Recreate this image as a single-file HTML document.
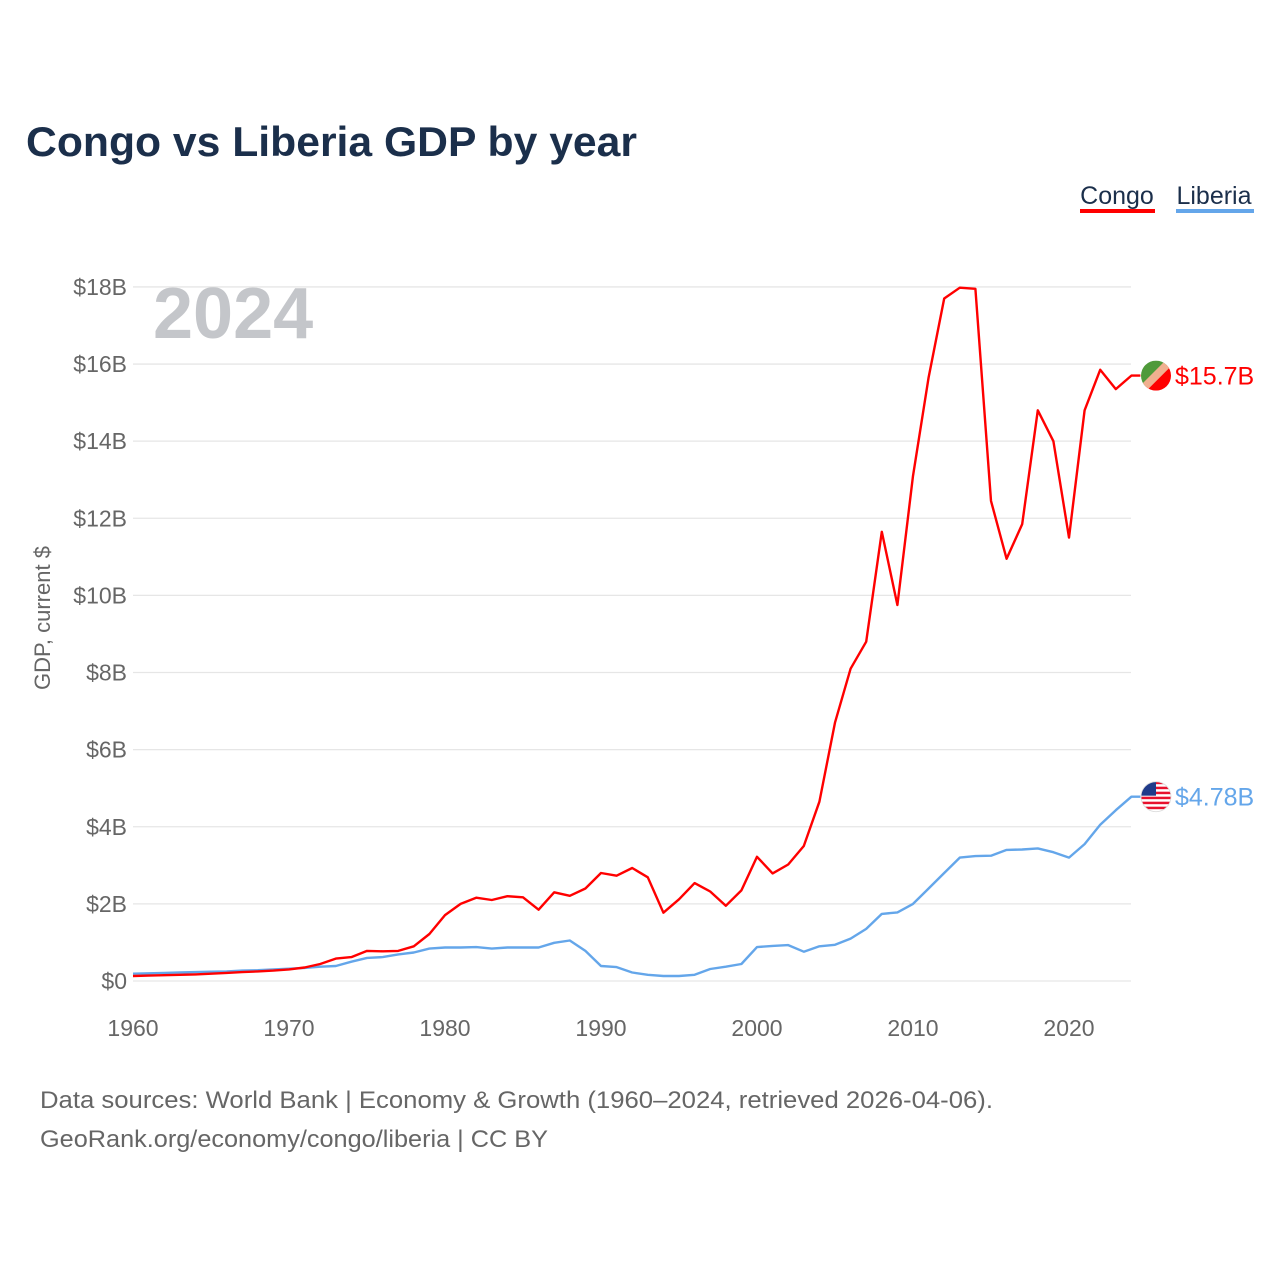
<!DOCTYPE html>
<html><head><meta charset="utf-8">
<style>
body{margin:0;background:#fff;font-family:"Liberation Sans",sans-serif;}
#wrap{position:relative;width:1280px;height:1280px;overflow:hidden;}
</style></head>
<body>
<div id="wrap">
<svg id="chart" width="1280" height="1280">
<text x="26" y="156" font-size="42" font-weight="bold" fill="#1b2f4b" textLength="611" lengthAdjust="spacingAndGlyphs">Congo vs Liberia GDP by year</text>
<g>
<g><text x="1117" y="204" font-size="25" fill="#1b2f4b" text-anchor="middle">Congo</text><rect x="1080" y="209" width="75" height="4" fill="#ff0000"/></g>
<g><text x="1214" y="204" font-size="25" fill="#1b2f4b" text-anchor="middle">Liberia</text><rect x="1176" y="209" width="78" height="4" fill="#64a6ea"/></g>
</g>
<g id="grid"></g>
<text x="153" y="338" font-size="72" font-weight="bold" fill="#c4c6ca">2024</text>
<text transform="translate(50,618) rotate(-90)" font-size="22" fill="#666" text-anchor="middle">GDP, current $</text>
<g id="series"></g>
<text x="40" y="1108" font-size="24" fill="#666" textLength="953" lengthAdjust="spacingAndGlyphs">Data sources: World Bank | Economy &amp; Growth (1960–2024, retrieved 2026-04-06).</text>
<text x="40" y="1147" font-size="24" fill="#666" textLength="508" lengthAdjust="spacingAndGlyphs">GeoRank.org/economy/congo/liberia | CC BY</text>
</svg>
</div>
<script>
const years=[];for(let y=1960;y<=2024;y++)years.push(y);
const congo=[0.13,0.14,0.15,0.16,0.17,0.19,0.21,0.23,0.25,0.27,0.30,0.35,0.44,0.58,0.62,0.78,0.77,0.78,0.9,1.22,1.71,2.0,2.16,2.1,2.2,2.17,1.85,2.3,2.21,2.4,2.8,2.73,2.93,2.69,1.77,2.12,2.54,2.32,1.95,2.35,3.22,2.79,3.02,3.5,4.65,6.7,8.1,8.8,11.65,9.75,13.1,15.65,17.7,17.98,17.95,12.45,10.95,11.85,14.8,14.0,11.5,14.8,15.85,15.35,15.7];
const liberia=[0.19,0.2,0.21,0.22,0.23,0.24,0.25,0.27,0.28,0.3,0.32,0.34,0.37,0.39,0.5,0.6,0.62,0.69,0.74,0.84,0.87,0.87,0.88,0.84,0.87,0.87,0.87,0.99,1.05,0.78,0.39,0.36,0.22,0.16,0.13,0.13,0.16,0.31,0.37,0.44,0.88,0.91,0.93,0.76,0.9,0.94,1.1,1.35,1.74,1.78,2.0,2.4,2.8,3.2,3.24,3.25,3.4,3.41,3.44,3.34,3.2,3.55,4.05,4.43,4.78];
const yTicks=[0,2,4,6,8,10,12,14,16,18];
const yTickLabels=["$0","$2B","$4B","$6B","$8B","$10B","$12B","$14B","$16B","$18B"];
const xTicks=[1960,1970,1980,1990,2000,2010,2020];
const endLabels=["$15.7B","$4.78B"];
const NS="http://www.w3.org/2000/svg";
const X=y=>133+(y-1960)*15.6;
const Y=v=>981-v*38.56;
function el(t,a,p){const e=document.createElementNS(NS,t);for(const k in a)e.setAttribute(k,a[k]);p.appendChild(e);return e;}
const grid=document.getElementById('grid'),ser=document.getElementById('series');
yTicks.forEach((v,i)=>{
 const l=el('line',{x1:133,x2:1131,y1:Y(v),y2:Y(v),stroke:'#e6e6e6','stroke-width':1.3},grid);
 
 
 const t=el('text',{x:127,y:Y(v)+8,'font-size':23,fill:'#666','text-anchor':'end'},grid);
 t.textContent=yTickLabels[i];
 
 
});
xTicks.forEach(v=>{
 const t=el('text',{x:X(v),y:1036,'font-size':23,fill:'#666','text-anchor':'middle'},grid);
 t.textContent=v;
 
 
});
function line(data,color,name){
 const d=data.map((v,i)=>(i?'L':'M')+X(years[i]).toFixed(1)+','+Y(v).toFixed(1)).join('')+'H'+(X(2024)+9);
 const p=el('path',{d:d,fill:'none',stroke:color,'stroke-width':2.4,'stroke-linejoin':'round'},ser);
 
 
}
line(liberia,'#64a6ea','liberia-line');
line(congo,'#ff0000','congo-line');
const cy=Y(congo[congo.length-1]), ly=Y(liberia[liberia.length-1]);
const g1=el('g',{},ser);


const cp1=el('clipPath',{id:'c1'},g1);el('circle',{cx:1156,cy:cy,r:15},cp1);
el('polygon',{points:`1141,${cy-15} 1171,${cy-15} 1141,${cy+15}`,fill:'#4f9a3a','clip-path':'url(#c1)'},g1);
el('polygon',{points:`1171,${cy-15} 1171,${cy+15} 1141,${cy+15}`,fill:'#ff0000','clip-path':'url(#c1)'},g1);
el('line',{x1:1141,y1:cy+15,x2:1171,y2:cy-15,stroke:'#f0b090','stroke-width':8,'clip-path':'url(#c1)'},g1);
const g2=el('g',{},ser);


const cp=el('clipPath',{id:'c2'},g2);el('circle',{cx:1156,cy:ly,r:15},cp);
for(let i=0;i<6;i++)el('rect',{x:1141,y:ly-15+i*5,width:30,height:2.5,fill:'#e8112d','clip-path':'url(#c2)'},g2);
el('rect',{x:1141,y:ly-15,width:15,height:14,fill:'#1f3b8a','clip-path':'url(#c2)'},g2);
el('circle',{cx:1156,cy:ly,r:15,fill:'none',stroke:'#ddd','stroke-width':0.8},g2);
const t1=el('text',{x:1175,y:cy+9,'font-size':25,fill:'#ff0000'},ser);t1.textContent=endLabels[0];


const t2=el('text',{x:1175,y:ly+9,'font-size':25,fill:'#64a6ea'},ser);t2.textContent=endLabels[1];


</script>
</body></html>
